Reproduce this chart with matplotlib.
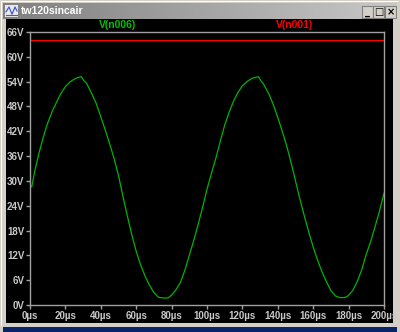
import matplotlib
matplotlib.use("Agg")
import matplotlib.pyplot as plt
import numpy as np
from matplotlib.patches import Rectangle

# waveform values (time in us, volts)
t_us = [0, 1, 2.5, 5, 7.5, 10, 12.5, 15, 17.5, 20, 22.5, 25, 27, 29, 30.5, 32,
        35, 37.5, 40, 42.5, 45, 47.5, 50, 52.5, 55, 57.5, 60, 62.5, 65, 67.5,
        70, 72.5, 75, 78, 80, 82.5, 85, 87.5, 90, 92.5, 95, 97.5, 100, 102.5,
        105, 107.5, 110, 112.5, 115, 117.5, 120, 122.5, 125, 127, 129, 130.5,
        132, 135, 137.5, 140, 142.5, 145, 147.5, 150, 152.5, 155, 157.5, 160,
        162.5, 165, 167.5, 170, 172.5, 175, 178, 180, 182.5, 185, 187.5, 190,
        192.5, 195, 197.5, 200]
v_n006 = [28.6, 28.6, 32.0, 36.6, 40.6, 44.0, 46.8, 49.0, 51.2, 52.8, 53.9,
          54.6, 55.0, 55.2, 54.2, 53.6, 51.0, 48.6, 45.5, 42.3, 39.0, 35.4,
          31.3, 26.3, 21.5, 17.0, 13.0, 9.7, 7.0, 4.8, 3.0, 1.9, 1.7, 1.7,
          2.4, 3.7, 5.5, 8.4, 12.0, 15.6, 19.5, 23.6, 28.0, 31.8, 35.5, 39.6,
          43.5, 46.6, 49.3, 51.4, 53.0, 54.0, 54.7, 55.0, 55.2, 54.2, 53.4,
          51.0, 48.4, 45.3, 42.0, 38.5, 34.4, 30.0, 25.6, 21.5, 17.6, 14.0,
          10.8, 8.0, 5.6, 3.5, 2.2, 1.8, 1.8, 2.3, 3.6, 5.8, 8.6, 12.3,
          15.4, 19.0, 22.8, 27.0]
t_n001 = [0, 200]
v_n001 = [64.0, 64.0]

y_ticks = [0, 6, 12, 18, 24, 30, 36, 42, 48, 54, 60, 66]
x_ticks = [0, 20, 40, 60, 80, 100, 120, 140, 160, 180, 200]

W, H = 400, 332
fig = plt.figure(figsize=(W / 100, H / 100), dpi=100)
fig.patch.set_facecolor("#d4d0c8")


def px_rect(x0, y0, x1, y1, color, z=1):
    # rectangle given in screen pixels (y down)
    fig.patches.append(Rectangle((x0 / W, 1 - y1 / H), (x1 - x0) / W, (y1 - y0) / H,
                                 transform=fig.transFigure, facecolor=color,
                                 edgecolor="none", zorder=z))


# window chrome
px_rect(1, 1, 399, 2, "#ffffff")
px_rect(1, 1, 2, 326, "#ffffff")
# black panel and bottom strip
px_rect(6, 19, 393, 323, "#000000")
px_rect(3, 327, 397, 332, "#0a246a")

tb = fig.add_axes([3 / W, 1 - 19 / H, 394 / W, 16 / H])
tb.set_zorder(5)
tb.imshow(np.linspace(0, 1, 256)[None, :], cmap=matplotlib.colors.LinearSegmentedColormap.from_list(
    "tb", ["#808080", "#c8c8c8"]), aspect="auto", extent=[0, 1, 0, 1])
tb.set_axis_off()
tb.text(18 / 394, 0.5, "tw120sincair", color="white", fontsize=7.5,
        fontweight="bold", va="center", ha="left", family="Liberation Sans",
        transform=tb.transAxes)
# little icon
tb.add_patch(Rectangle((2 / 394, 0.1), 13 / 394, 0.75, transform=tb.transAxes,
                       facecolor="#e8e8f0", edgecolor="none"))
tb.plot([3 / 394, 6 / 394, 9 / 394, 12 / 394, 14 / 394], [0.45, 0.75, 0.3, 0.75, 0.5],
        transform=tb.transAxes, color="#3050c0", lw=0.8)
tb.plot([3 / 394, 14 / 394], [0.25, 0.25], transform=tb.transAxes, color="#d03030", lw=0.8)
for bx0, sym in [(359, "_"), (370, "□"), (382, "×")]:
    tb.add_patch(Rectangle((bx0 / 394, 0.08), 11 / 394, 0.75, transform=tb.transAxes,
                           facecolor="#d4d0c8", edgecolor="#808080", lw=0.8))
    tb.text((bx0 + 5.5) / 394, 0.45, sym, color="black", fontsize=7,
            fontweight="bold", ha="center", va="center", transform=tb.transAxes)

ax = fig.add_axes([30 / W, 1 - 305 / H, 354 / W, 273 / H])
ax.set_zorder(5)
ax.set_facecolor("#000000")
ax.plot(t_n001, v_n001, color="#ff0000", lw=1.0)
ax.plot(t_us, v_n006, color="#00b400", lw=0.9)
ax.set_xlim(0, 200)
ax.set_ylim(0, 66)
ax.set_xticks(x_ticks)
ax.set_xticklabels([f"{v}µs" for v in x_ticks])
ax.set_yticks(y_ticks)
ax.set_yticklabels([f"{v}V" for v in y_ticks])
for s in ax.spines.values():
    s.set_color("#a0a0a0")
    s.set_linewidth(1)
ax.tick_params(colors="#a0a0a0", labelcolor="#c8c8c8", labelsize=7, length=3,
               width=1, pad=1)
for lab in ax.get_xticklabels() + ax.get_yticklabels():
    lab.set_fontweight("bold")
    lab.set_family("Liberation Sans")

fig.text(118 / W, 1 - 25 / H, "V(n006)", color="#00c000", fontsize=7.5,
         fontweight="bold", ha="center", va="center", family="Liberation Sans",
         zorder=6)
fig.text(295 / W, 1 - 25 / H, "V(n001)", color="#ff0000", fontsize=7.5,
         fontweight="bold", ha="center", va="center", family="Liberation Sans",
         zorder=6)

fig.savefig("out.png", dpi=100, facecolor=fig.get_facecolor())
